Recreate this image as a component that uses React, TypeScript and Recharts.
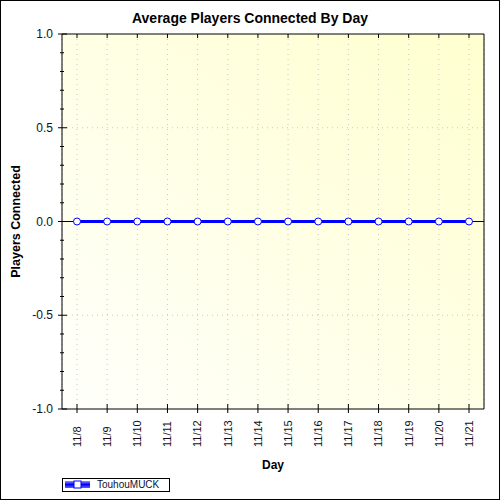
import React from 'react';
import { LineChart, Line, XAxis, YAxis, CartesianGrid, ReferenceLine } from 'recharts';

const days = ['11/8', '11/9', '11/10', '11/11', '11/12', '11/13', '11/14', '11/15', '11/16', '11/17', '11/18', '11/19', '11/20', '11/21'];
const touhouMuck = [0, 0, 0, 0, 0, 0, 0, 0, 0, 0, 0, 0, 0, 0];
const majorTicks = [-1, -0.5, 0, 0.5, 1];
const minorTicks = [-1, -0.9, -0.8, -0.7, -0.6, -0.5, -0.4, -0.3, -0.2, -0.1, 0, 0.1, 0.2, 0.3, 0.4, 0.5, 0.6, 0.7, 0.8, 0.9, 1];

const data = days.map((day, i) => ({ day, players: touhouMuck[i] }));

const FONT = '"Liberation Sans", Arial, sans-serif';
const PLOT_LEFT = 62;
const PLOT_RIGHT = 484;
const PLOT_TOP = 34;
const PLOT_BOTTOM = 409;

const isMajor = (v: number) => majorTicks.includes(v);

const LeftTick = (props: any) => {
  const { y, payload } = props;
  const major = isMajor(payload.value);
  return (
    <g>
      <line x1={major ? 58 : 60} x2={major ? 67 : 64} y1={y} y2={y} stroke="#000" />
      {major && (
        <text x={53} y={y} dy="0.35em" textAnchor="end" fontSize={12} fontFamily={FONT} fill="#101020">
          {payload.value.toFixed(1)}
        </text>
      )}
    </g>
  );
};

const RightTick = (props: any) => {
  const { y, payload } = props;
  const major = isMajor(payload.value);
  return <line x1={major ? PLOT_RIGHT - 5 : PLOT_RIGHT - 3} x2={PLOT_RIGHT} y1={y} y2={y} stroke="#000" />;
};

const TopTick = (props: any) => {
  const { x } = props;
  return <line x1={x} x2={x} y1={PLOT_TOP} y2={PLOT_TOP + 4} stroke="#000" />;
};

const BottomTick = (props: any) => {
  const { x, payload } = props;
  return (
    <g>
      <line x1={x} x2={x} y1={PLOT_BOTTOM - 5} y2={PLOT_BOTTOM + 4} stroke="#000" />
      <text
        x={x}
        y={447}
        dy="0.35em"
        textAnchor="start"
        fontSize={11}
        fontFamily={FONT}
        fill="#101020"
        transform={`rotate(-90, ${x}, 447)`}
      >
        {payload.value}
      </text>
    </g>
  );
};

const YTitle = () => {
  const cy = (PLOT_TOP + PLOT_BOTTOM) / 2;
  return (
    <text
      x={16}
      y={cy}
      dy="0.35em"
      textAnchor="middle"
      fontSize={12.5}
      fontWeight="bold"
      fontFamily={FONT}
      transform={`rotate(-90, 16, ${cy})`}
    >
      Players Connected
    </text>
  );
};

const XTitle = () => (
  <text x={(PLOT_LEFT + PLOT_RIGHT) / 2} y={469} textAnchor="middle" fontSize={12} fontWeight="bold" fontFamily={FONT}>
    Day
  </text>
);

export default function App() {
  return (
    <div style={{ position: 'relative', width: 500, height: 500, background: '#fff' }}>
      <style>{'body{margin:0}'}</style>
      <svg width={0} height={0} style={{ position: 'absolute' }}>
        <defs>
          <linearGradient id="plotBg" x1="0" y1="1" x2="1" y2="0">
            <stop offset="0%" stopColor="#fffffc" />
            <stop offset="100%" stopColor="#ffffcf" />
          </linearGradient>
          <linearGradient id="legendLine" x1="0" y1="0" x2="0" y2="1">
            <stop offset="0%" stopColor="#9090ff" />
            <stop offset="50%" stopColor="#0000ff" />
            <stop offset="100%" stopColor="#6060ff" />
          </linearGradient>
        </defs>
      </svg>
      <div
        style={{
          position: 'absolute',
          top: 10,
          left: 0,
          width: 500,
          textAlign: 'center',
          fontFamily: FONT,
          fontWeight: 'bold',
          fontSize: 14,
          lineHeight: '16px',
        }}
      >
        Average Players Connected By Day
      </div>
      <LineChart width={500} height={500} data={data} margin={{ top: 0, right: 0, bottom: 0, left: 0 }}>
        <CartesianGrid
          xAxisId="bottom"
          yAxisId="left"
          horizontal={false}
          stroke="#c8c8c8"
          strokeDasharray="1 4"
          fill="url(#plotBg)"
          fillOpacity={1}
        />
        <XAxis
          xAxisId="top"
          orientation="top"
          dataKey="day"
          height={PLOT_TOP}
          padding={{ left: 15, right: 15 }}
          interval={0}
          tickLine={false}
          tick={<TopTick />}
          axisLine={{ stroke: '#000' }}
        />
        <XAxis
          xAxisId="bottom"
          dataKey="day"
          height={500 - PLOT_BOTTOM}
          padding={{ left: 15, right: 15 }}
          interval={0}
          tickLine={false}
          tick={<BottomTick />}
          axisLine={{ stroke: '#000' }}
          label={{ content: <XTitle /> }}
        />
        <YAxis
          yAxisId="left"
          width={PLOT_LEFT}
          domain={[-1, 1]}
          ticks={minorTicks}
          interval={0}
          tickLine={false}
          tick={<LeftTick />}
          axisLine={{ stroke: '#000' }}
          label={{ content: <YTitle /> }}
        />
        <YAxis
          yAxisId="right"
          orientation="right"
          width={500 - PLOT_RIGHT}
          domain={[-1, 1]}
          ticks={minorTicks}
          interval={0}
          tickLine={false}
          tick={<RightTick />}
          axisLine={{ stroke: '#000' }}
        />
        <ReferenceLine xAxisId="bottom" yAxisId="left" y={0.5} stroke="#c8c8c8" strokeDasharray="1 4" />
        <ReferenceLine xAxisId="bottom" yAxisId="left" y={-0.5} stroke="#c8c8c8" strokeDasharray="1 4" />
        <ReferenceLine xAxisId="bottom" yAxisId="left" y={0} stroke="#000" />
        <Line
          xAxisId="bottom"
          yAxisId="left"
          type="linear"
          dataKey="players"
          stroke="#0000ff"
          strokeWidth={3}
          dot={{ r: 3.5, fill: '#fff', stroke: '#0000ff', strokeWidth: 1 }}
          isAnimationActive={false}
        />
      </LineChart>
      <div
        style={{
          position: 'absolute',
          left: 62,
          top: 478,
          width: 108,
          height: 14,
          boxSizing: 'border-box',
          border: '1px solid #000',
          background: '#fff',
          display: 'flex',
          alignItems: 'center',
        }}
      >
        <svg width={30} height={12} style={{ display: 'block' }}>
          <rect x={2} y={2} width={25} height={7} fill="url(#legendLine)" />
          <rect x={11} y={2} width={7} height={7} fill="#fff" stroke="#0000ff" />
        </svg>
        <span style={{ fontFamily: FONT, fontSize: 10, color: '#101030', marginLeft: 4, lineHeight: '12px' }}>TouhouMUCK</span>
      </div>
      <div
        style={{
          position: 'absolute',
          left: 0,
          top: 0,
          width: 500,
          height: 500,
          boxSizing: 'border-box',
          border: '1px solid #000',
          pointerEvents: 'none',
        }}
      />
    </div>
  );
}
